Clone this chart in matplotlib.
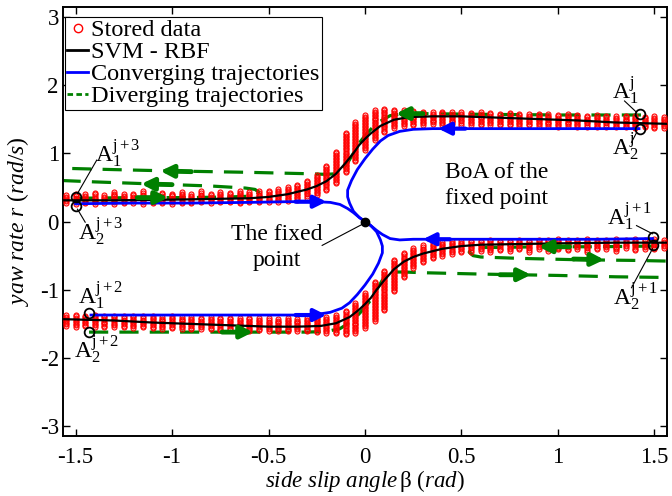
import numpy as np
import matplotlib
matplotlib.use("Agg")
import matplotlib.pyplot as plt
from matplotlib.lines import Line2D

plt.rcParams['font.family'] = ['Liberation Serif', 'DejaVu Serif']
plt.rcParams['mathtext.fontset'] = 'custom'
plt.rcParams['mathtext.rm'] = 'Liberation Serif'
plt.rcParams['mathtext.it'] = 'Liberation Serif:italic'
plt.rcParams['mathtext.bf'] = 'Liberation Serif:bold'
plt.rcParams['axes.unicode_minus'] = False

# ---------------- data ----------------
# stored data: columns of samples (x position, lower / upper extent)
col_x = [-1.55, -1.50, -1.45, -1.40, -1.35, -1.30, -1.25, -1.20, -1.15, -1.10,
         -1.05, -1.00, -0.95, -0.90, -0.85, -0.80, -0.75, -0.70, -0.65, -0.60,
         -0.55, -0.50, -0.45, -0.40, -0.35, -0.30, -0.25, -0.20, -0.15, -0.10,
         -0.05, 0.00, 0.05, 0.10, 0.15, 0.20, 0.25, 0.30, 0.35, 0.40,
         0.45, 0.50, 0.55, 0.60, 0.65, 0.70, 0.75, 0.80, 0.85, 0.90,
         0.95, 1.00, 1.05, 1.10, 1.15, 1.20, 1.25, 1.30, 1.35, 1.40,
         1.45, 1.50, 1.55]
up_lo = [0.27, 0.26, 0.27, 0.26, 0.27, 0.26, 0.27, 0.27, 0.26, 0.27,
         0.27, 0.26, 0.27, 0.27, 0.28, 0.27, 0.28, 0.28, 0.27, 0.28,
         0.28, 0.29, 0.29, 0.30, 0.32, 0.35, 0.39, 0.46, 0.56, 0.72,
         0.88, 1.05, 1.20, 1.31, 1.37, 1.40, 1.41, 1.42, 1.43, 1.42,
         1.43, 1.42, 1.42, 1.41, 1.42, 1.41, 1.41, 1.40, 1.41, 1.40,
         1.40, 1.39, 1.40, 1.39, 1.39, 1.38, 1.39, 1.38, 1.38, 1.37,
         1.38, 1.37, 1.37]
up_hi = [0.39, 0.41, 0.40, 0.42, 0.39, 0.43, 0.40, 0.41, 0.44, 0.40,
         0.42, 0.41, 0.43, 0.40, 0.44, 0.41, 0.43, 0.42, 0.44, 0.43,
         0.44, 0.45, 0.47, 0.50, 0.54, 0.60, 0.68, 0.82, 1.02, 1.30,
         1.45, 1.56, 1.63, 1.65, 1.64, 1.63, 1.62, 1.61, 1.60, 1.61,
         1.60, 1.60, 1.59, 1.60, 1.59, 1.58, 1.59, 1.58, 1.57, 1.58,
         1.57, 1.56, 1.57, 1.56, 1.55, 1.56, 1.55, 1.54, 1.55, 1.54,
         1.53, 1.54, 1.53]
low_lo = [-1.53, -1.54, -1.53, -1.54, -1.55, -1.54, -1.55, -1.56, -1.55, -1.56,
          -1.57, -1.56, -1.57, -1.58, -1.57, -1.58, -1.59, -1.58, -1.59, -1.60,
          -1.59, -1.60, -1.60, -1.61, -1.60, -1.61, -1.62, -1.63, -1.64, -1.65,
          -1.63, -1.56, -1.45, -1.30, -1.02, -0.82, -0.68, -0.60, -0.54, -0.50,
          -0.47, -0.45, -0.44, -0.43, -0.44, -0.42, -0.43, -0.41, -0.44, -0.40,
          -0.43, -0.41, -0.42, -0.40, -0.44, -0.41, -0.40, -0.43, -0.39, -0.42,
          -0.40, -0.41, -0.39]
low_hi = [-1.37, -1.37, -1.38, -1.37, -1.38, -1.38, -1.39, -1.38, -1.39, -1.39,
          -1.40, -1.39, -1.40, -1.40, -1.41, -1.40, -1.41, -1.41, -1.42, -1.41,
          -1.42, -1.42, -1.43, -1.42, -1.43, -1.42, -1.41, -1.40, -1.37, -1.31,
          -1.20, -1.05, -0.88, -0.72, -0.56, -0.46, -0.39, -0.35, -0.32, -0.30,
          -0.29, -0.29, -0.28, -0.28, -0.27, -0.28, -0.28, -0.27, -0.28, -0.27,
          -0.27, -0.26, -0.27, -0.27, -0.26, -0.27, -0.27, -0.26, -0.27, -0.26,
          -0.27, -0.26, -0.27]

# SVM - RBF boundary curves
svm_up_x = [-1.57, -1.3, -1.0, -0.8, -0.6, -0.5, -0.4, -0.3, -0.25, -0.2, -0.15, -0.1,
            -0.06, -0.03, 0.0, 0.03, 0.08, 0.15, 0.23, 0.35, 0.5, 0.7, 0.9, 1.1, 1.3, 1.57]
svm_up_y = [0.31, 0.31, 0.32, 0.33, 0.34, 0.36, 0.40, 0.47, 0.52, 0.59, 0.70, 0.86,
            1.00, 1.12, 1.21, 1.29, 1.40, 1.49, 1.53, 1.54, 1.54, 1.52, 1.50, 1.48, 1.45, 1.43]
svm_lo_x = [-1.57, -1.3, -1.1, -0.9, -0.7, -0.5, -0.35, -0.23, -0.15, -0.08, -0.03, 0.0,
            0.03, 0.06, 0.1, 0.15, 0.2, 0.25, 0.3, 0.4, 0.5, 0.6, 0.8, 1.0, 1.3, 1.57]
svm_lo_y = [-1.43, -1.45, -1.48, -1.50, -1.52, -1.54, -1.54, -1.53, -1.49, -1.40, -1.29, -1.21,
            -1.12, -1.00, -0.86, -0.70, -0.59, -0.52, -0.47, -0.40, -0.36, -0.34, -0.33, -0.32, -0.31, -0.31]

# converging trajectories
conv1_x = [-1.50, -1.2, -0.9, -0.6, -0.4, -0.25, -0.18, -0.13, -0.09, -0.06, -0.03, 0.0]
conv1_y = [0.26, 0.27, 0.27, 0.28, 0.29, 0.29, 0.28, 0.25, 0.19, 0.13, 0.06, 0.0]
conv2_x = [1.42, 1.0, 0.6, 0.35, 0.25, 0.18, 0.12, 0.08, 0.04, 0.0, -0.04, -0.07, -0.09,
           -0.09, -0.08, -0.06, -0.03, 0.0]
conv2_y = [1.36, 1.36, 1.36, 1.36, 1.35, 1.32, 1.26, 1.18, 1.06, 0.92, 0.76, 0.60, 0.46,
           0.36, 0.27, 0.15, 0.06, 0.0]
conv3_x = [1.49, 1.2, 0.9, 0.6, 0.4, 0.25, 0.18, 0.13, 0.09, 0.06, 0.03, 0.0]
conv3_y = [-0.25, -0.26, -0.26, -0.26, -0.26, -0.26, -0.27, -0.25, -0.19, -0.13, -0.06, 0.0]
conv4_x = [-1.42, -1.0, -0.6, -0.35, -0.25, -0.18, -0.12, -0.08, -0.04, 0.0, 0.04, 0.07, 0.09,
           0.09, 0.08, 0.06, 0.03, 0.0]
conv4_y = [-1.37, -1.37, -1.37, -1.37, -1.36, -1.33, -1.27, -1.19, -1.07, -0.93, -0.77, -0.61,
           -0.46, -0.36, -0.27, -0.15, -0.06, 0.0]

# diverging trajectories
div1_x = [1.43, 1.0, 0.6, 0.3, 0.2, 0.13, 0.08, 0.04, 0.01, -0.03, -0.06, -0.09, -0.12,
          -0.15, -0.2, -0.3, -0.6, -1.0, -1.3, -1.57]
div1_y = [1.56, 1.56, 1.57, 1.58, 1.58, 1.55, 1.47, 1.38, 1.29, 1.15, 1.00, 0.86, 0.75,
          0.70, 0.69, 0.70, 0.72, 0.74, 0.76, 0.78]
div2_x = [-1.50, -1.2, -0.9, -0.7, -0.6, -0.56, -0.55, -0.57, -0.62, -0.8, -1.1, -1.4, -1.57]
div2_y = [0.34, 0.35, 0.35, 0.36, 0.37, 0.39, 0.43, 0.47, 0.49, 0.52, 0.55, 0.58, 0.60]
div3_x = [-1.43, -1.0, -0.6, -0.3, -0.2, -0.13, -0.08, -0.04, -0.01, 0.03, 0.06, 0.09,
          0.12, 0.15, 0.2, 0.3, 0.6, 1.0, 1.3, 1.57]
div3_y = [-1.62, -1.62, -1.62, -1.62, -1.61, -1.57, -1.48, -1.38, -1.29, -1.15, -1.00, -0.86,
          -0.77, -0.74, -0.74, -0.75, -0.77, -0.79, -0.81, -0.82]
div4_x = [1.49, 1.2, 0.9, 0.7, 0.6, 0.55, 0.54, 0.56, 0.6, 0.8, 1.1, 1.4, 1.57]
div4_y = [-0.36, -0.37, -0.37, -0.38, -0.38, -0.40, -0.45, -0.50, -0.52, -0.54, -0.56, -0.57, -0.58]

# direction arrows (tail x, tail y, head x, head y)
blue_arrows = [(-0.36, 0.29, -0.20, 0.29), (0.52, 1.36, 0.38, 1.36),
               (0.44, -0.26, 0.30, -0.26), (-0.36, -1.37, -0.20, -1.37)]
green_arrows = [(0.30, 1.58, 0.16, 1.58), (-0.90, 0.73, -1.06, 0.74),
                (-1.18, 0.35, -1.02, 0.35), (-1.00, 0.54, -1.16, 0.55),
                (-0.74, -1.62, -0.58, -1.62), (0.70, -0.78, 0.86, -0.78),
                (1.06, -0.37, 0.90, -0.37), (1.08, -0.55, 1.24, -0.56)]

# marked states A
pts_x = [-1.50, -1.50, -1.428, -1.428, 1.423, 1.423, 1.495, 1.495]
pts_y = [0.36, 0.23, -1.34, -1.62, 1.57, 1.35, -0.22, -0.34]
pt_labels = [r'$\mathrm{A}_1^{\mathrm{j+3}}$', r'$\mathrm{A}_2^{\mathrm{j+3}}$',
             r'$\mathrm{A}_1^{\mathrm{j+2}}$', r'$\mathrm{A}_2^{\mathrm{j+2}}$',
             r'$\mathrm{A}_1^{\mathrm{j}}$', r'$\mathrm{A}_2^{\mathrm{j}}$',
             r'$\mathrm{A}_1^{\mathrm{j+1}}$', r'$\mathrm{A}_2^{\mathrm{j+1}}$']
lab_x = [-1.283, -1.371, -1.371, -1.392, 1.350, 1.350, 1.371, 1.402]
lab_y = [0.99, -0.15, -1.09, -1.88, 1.91, 1.09, 0.07, -1.10]
# leader lines (None where no line)
lead = [(-1.49, 0.41, -1.39, 0.90), (-1.49, 0.18, -1.45, -0.01), None, None,
        (1.407, 1.60, 1.345, 1.765), (1.407, 1.30, 1.381, 1.16),
        (1.49, -0.18, 1.407, -0.06), (1.49, -0.40, 1.381, -0.97)]

fixed_x, fixed_y = 0.0, 0.0

xticks = [-1.5, -1, -0.5, 0, 0.5, 1, 1.5]
xtick_labels = ['-1.5', '-1', '-0.5', '0', '0.5', '1', '1.5']
yticks = [-3, -2, -1, 0, 1, 2, 3]
ytick_labels = ['-3', '-2', '-1', '0', '1', '2', '3']

# ---------------- figure ----------------
GREEN = '#008000'
fig = plt.figure(figsize=(6.72, 4.96), dpi=100)
ax = fig.add_axes([63 / 672, 1 - 436 / 496, 604 / 672, 429 / 496])
ax.set_xlim(-1.565, 1.565)
ax.set_ylim(-np.pi, np.pi)

dash = (6, 3.5)
for xs, ys in [(div1_x, div1_y), (div2_x, div2_y), (div3_x, div3_y), (div4_x, div4_y)]:
    ax.plot(xs, ys, color=GREEN, lw=2.3, dashes=dash, zorder=2)

# stored data columns
for cx, lo1, hi1, lo2, hi2 in zip(col_x, up_lo, up_hi, low_lo, low_hi):
    for lo, hi in ((lo1, hi1), (lo2, hi2)):
        n = max(4, int(round((hi - lo) / 0.022)) + 1)
        ys = np.linspace(lo, hi, n)
        ax.plot(np.full(n, cx), ys, 'o', ms=3.6, mfc='none', mec='red', mew=0.8,
                zorder=3, clip_on=True)

ax.plot(svm_up_x, svm_up_y, color='black', lw=1.6, zorder=4)
ax.plot(svm_lo_x, svm_lo_y, color='black', lw=1.6, zorder=4)

for xs, ys in [(conv1_x, conv1_y), (conv2_x, conv2_y), (conv3_x, conv3_y), (conv4_x, conv4_y)]:
    ax.plot(xs, ys, color='#0000FF', lw=2.0, zorder=5)

for (x0, y0, x1, y1) in blue_arrows:
    ax.annotate('', xy=(x1, y1), xytext=(x0, y0),
                arrowprops=dict(arrowstyle='-|>', color='#0000FF', lw=3,
                                mutation_scale=18, shrinkA=0, shrinkB=0), zorder=6)
for (x0, y0, x1, y1) in green_arrows:
    ax.annotate('', xy=(x1, y1), xytext=(x0, y0),
                arrowprops=dict(arrowstyle='-|>', color=GREEN, lw=3.5,
                                mutation_scale=18, shrinkA=0, shrinkB=0), zorder=6)

# A points, labels, leader lines
ax.plot(pts_x, pts_y, 'o', ms=7, mfc='none', mec='black', mew=1.3, zorder=7)
for lx, ly, t in zip(lab_x, lab_y, pt_labels):
    ax.text(lx, ly, t, fontsize=17, ha='center', va='center', zorder=8)
for ln in lead:
    if ln is not None:
        ax.plot([ln[0], ln[2]], [ln[1], ln[3]], color='black', lw=0.8, zorder=7)

# fixed point
ax.plot([fixed_x], [fixed_y], 'o', ms=6, color='black', zorder=8)
ax.plot([-0.222, -0.016], [-0.35, -0.044], color='black', lw=0.8, zorder=7)
ax.text(-0.455, -0.38, 'The fixed\npoint', fontsize=17, ha='center', va='center',
        linespacing=1.3, zorder=8)
ax.text(0.683, 0.53, 'BoA of the\nfixed point', fontsize=17, ha='center', va='center',
        linespacing=1.3, zorder=8)

# axes styling
ax.set_xticks(xticks)
ax.set_xticklabels(xtick_labels)
ax.set_yticks(yticks)
ax.set_yticklabels(ytick_labels)
ax.tick_params(direction='in', length=5, width=1, top=True, right=True, labelsize=16.5)
ax.tick_params(axis='x', pad=8)
ax.tick_params(axis='y', pad=3)
for s in ax.spines.values():
    s.set_linewidth(1.4)

ax.set_xlabel(r'$\mathit{side\ slip\ angle}\,\mathrm{\beta}\ \mathrm{(}\mathit{rad}\mathrm{)}$',
              fontsize=16.5, labelpad=0)
ax.set_ylabel(r'$\mathit{yaw\ rate\ r\ (rad/s)}$', fontsize=17, labelpad=6)

handles = [Line2D([], [], ls='none', marker='o', ms=6, mfc='none', mec='red', mew=1),
           Line2D([], [], color='black', lw=2),
           Line2D([], [], color='#0000FF', lw=2),
           Line2D([], [], color=GREEN, lw=2, dashes=(2, 1.2))]
labels = ['Stored data', 'SVM - RBF', 'Converging trajectories', 'Diverging trajectories']
leg = ax.legend(handles, labels, loc='upper left', bbox_to_anchor=(0.003, 0.977),
                borderaxespad=0, fontsize=17.5, frameon=True, fancybox=False,
                edgecolor='black', framealpha=1, borderpad=0.1, handlelength=0.85,
                handletextpad=0.12, labelspacing=0.0)
leg.get_frame().set_linewidth(0.8)
leg.set_zorder(10)

fig.savefig('out.png', dpi=100)
